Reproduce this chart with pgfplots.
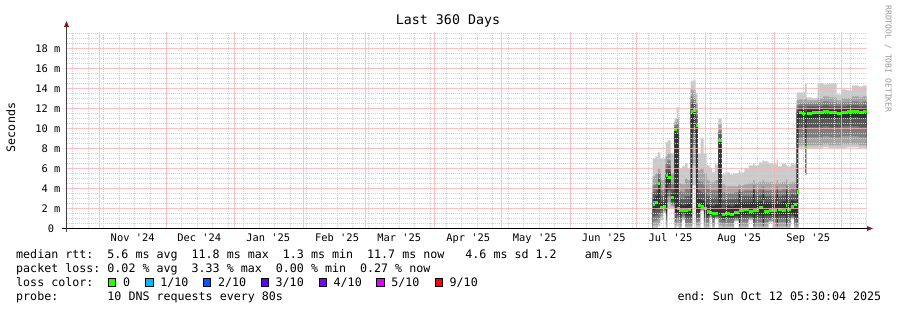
\documentclass[border=0pt]{standalone}
\usepackage{pgfplots}
\pgfplotsset{compat=1.18}
\usepackage{pgfplotstable}
\usepackage{fontspec}
\setmonofont{DejaVu Sans Mono}
\newcommand{\q}{\textquotesingle}
\definecolor{smA}{HTML}{CACACA}
\definecolor{smB}{HTML}{A4A4A4}
\definecolor{smC}{HTML}{7E7E7E}
\definecolor{smD}{HTML}{585858}
\definecolor{smE}{HTML}{323232}
\definecolor{lossA}{HTML}{26FF00}
\definecolor{lossB}{HTML}{00B8FF}
\definecolor{lossC}{HTML}{0059FF}
\definecolor{lossD}{HTML}{5E00FF}
\definecolor{lossE}{HTML}{7E00FF}
\definecolor{lossF}{HTML}{DD00FF}
\definecolor{lossG}{HTML}{FF0000}
\definecolor{mgridc}{rgb}{0.96,0.71,0.71}
\definecolor{gridc}{rgb}{0.82,0.82,0.82}
\definecolor{arrowc}{HTML}{7F1F1F}
\newcommand{\legfont}{\ttfamily\fontsize{11.66}{14}\selectfont\frenchspacing}
\newcommand{\axfont}{\ttfamily\fontsize{10.4}{12}\selectfont\frenchspacing}

\pgfplotstableread{
x     p1  p2  p3  p4   p5   med  p6   p7   p8   p9   p10
263.7 0   0.3 0.7 1.2  1.8  2.4  3.0  3.6  4.3  5.2  7.0
265.0 0   0.3 0.8 1.3  2.0  2.6  3.2  3.8  4.5  5.5  7.2
266.2 0.2 0.5 1.0 1.5  2.0  4.5  4.6  5.0  5.5  6.0  7.6
267.2 0.8 1.2 1.5 1.8  2.0  2.1  2.6  3.2  3.8  4.8  7.0
268.5 1.5 1.7 1.8 1.9  2.0  2.2  2.6  3.3  4.0  5.0  7.0
269.6 0   0.3 0.8 1.2  1.5  5.3  5.5  6.0  6.5  7.2  8.6
270.5 2.0 2.6 3.2 3.8  4.4  5.1  5.6  6.2  6.8  7.5  8.8
271.8 2.0 2.2 2.4 2.6  2.8  3.1  3.4  3.9  4.5  5.5  7.5
273.5 0   0.3 0.6 1.0  1.5  9.9  10.0 10.1 10.3 10.6 11.0
274.6 0.2 0.5 1.0 1.3  1.6  2.0  9.5  10.0 10.5 11.0 12.1
275.5 0   0.2 0.6 1.0  1.3  1.8  2.4  3.0  3.7  4.5  6.0
277.0 0.8 1.0 1.2 1.4  1.6  1.8  2.3  2.9  3.6  4.4  6.2
278.3 0   0.2 0.5 0.9  1.3  1.8  2.4  3.2  4.0  5.0  6.5
279.5 0   0.2 0.5 0.9  1.3  1.9  2.5  3.2  3.9  4.8  6.0
280.8 0   0.2 0.5 0.8  1.2  11.7 12.0 12.6 13.2 13.9 14.7
281.7 4.3 6.3 8.3 9.5  10.3 11.8 12.0 12.5 13.0 13.8 14.8
283.1 0   0.3 0.6 1.0  1.5  10.3 10.5 11.2 11.8 12.5 13.5
284.0 0   0.3 0.7 1.1  1.6  2.3  3.0  3.8  4.7  5.8  7.5
285.3 1.7 1.8 1.9 2.0  2.1  2.2  2.8  3.6  4.6  6.0  9.0
286.7 0   0.2 0.6 1.0  1.4  2.0  2.7  3.5  4.3  5.5  7.5
288.0 0   0.2 0.6 1.0  1.3  1.7  2.4  3.2  4.0  4.8  6.3
289.4 1.0 1.1 1.2 1.3  1.4  1.6  2.3  3.0  3.8  4.6  6.0
290.5 0   0.2 0.5 0.9  1.2  1.5  2.2  3.0  3.8  4.6  5.6
291.8 0.9 1.0 1.1 1.2  1.3  1.5  2.4  3.1  3.8  4.8  6.4
293.3 0   0.3 0.6 1.0  1.3  8.8  9.0  9.4  9.8  10.4 11.0
294.8 0   0.2 0.5 0.8  1.1  1.4  2.0  2.8  3.6  4.4  5.4
296.5 0   0.2 0.5 0.9  1.1  1.5  2.3  2.9  3.5  4.2  5.6
298.5 0   0.2 0.5 0.9  1.1  1.4  2.2  2.9  3.5  4.2  5.4
300.5 0.7 0.8 0.9 1.0  1.2  1.6  2.4  3.0  3.6  4.2  5.5
302.5 0   0.1 0.2 0.3  0.4  1.8  3.6  3.8  4.0  4.4  5.8
303.1 0   0.2 0.6 1.0  1.3  1.8  2.6  3.2  3.7  4.3  5.6
305.0 0   0.2 0.6 1.0  1.3  1.9  2.6  3.2  3.8  4.4  6.0
307.0 0.8 0.9 1.0 1.1  1.3  1.7  2.6  3.2  3.8  4.5  6.3
309.0 0   0.1 0.2 0.3  0.5  1.8  3.8  4.0  4.3  4.8  6.5
309.6 0   0.2 0.6 1.0  1.3  1.8  2.6  3.2  3.8  4.5  6.3
311.5 0   0.2 0.6 1.0  1.3  2.1  2.7  3.3  3.9  4.6  6.6
313.3 0   0.1 0.2 0.3  0.5  2.7  3.5  3.8  4.2  4.8  6.8
313.9 0   0.2 0.6 1.0  1.3  1.7  2.6  3.2  3.8  4.6  6.7
316.0 0.6 0.7 0.8 1.0  1.3  1.8  2.6  3.2  3.8  4.6  6.5
318.0 0   0.2 0.6 1.0  1.3  1.8  2.6  3.2  3.8  4.5  6.4
319.5 0   0.1 0.2 0.3  0.5  2.6  3.6  3.9  4.2  4.8  6.9
320.1 0   0.2 0.6 1.0  1.3  1.9  2.6  3.2  3.8  4.5  6.2
322.0 0   0.2 0.6 1.0  1.3  1.8  2.7  3.3  3.9  4.6  6.5
323.8 0   0.1 0.2 0.3  0.5  2.3  3.7  4.0  4.3  4.9  6.3
324.4 0   0.2 0.6 1.0  1.3  1.9  2.6  3.2  3.8  4.5  6.2
326.0 0.9 1.0 1.1 1.2  1.4  2.2  2.8  3.4  4.0  4.6  6.5
327.3 0   0.2 0.5 0.9  1.2  2.4  2.7  3.3  3.9  4.6  6.4
328.5 0   0.1 0.3 0.6  1.0  3.7  11.6 11.9 12.3 12.8 13.6
329.4 8.0 8.3 9.1 10.1 11.0 11.6 11.9 12.2 12.5 12.9 13.6
331.0 8.0 8.3 9.1 10.1 11.0 11.5 11.9 12.2 12.5 12.9 13.6
332.4 5.3 5.3 5.4 5.4  5.5  8.1  11.6 12.0 12.5 13.0 14.5
333.0 8.0 8.3 9.1 10.1 11.0 11.5 11.9 12.2 12.5 12.8 13.1
335.5 8.0 8.3 9.1 10.1 11.0 11.6 11.9 12.2 12.5 12.8 13.0
338.0 8.0 8.3 9.1 10.1 11.0 11.6 11.9 12.2 12.6 13.0 14.5
340.5 8.1 8.4 9.2 10.2 11.0 11.7 12.0 12.3 12.7 13.2 14.4
343.0 8.0 8.3 9.1 10.1 11.0 11.6 11.9 12.2 12.6 13.1 14.5
346.5 8.0 8.3 9.1 10.1 11.0 11.5 11.9 12.2 12.5 12.8 13.4
349.0 8.0 8.4 9.2 10.2 11.0 11.6 11.9 12.2 12.6 13.0 13.9
351.0 8.1 8.4 9.2 10.2 11.0 11.7 12.0 12.3 12.6 13.0 13.8
353.5 8.1 8.4 9.2 10.2 11.1 11.7 12.0 12.3 12.7 13.2 14.3
356.5 8.0 8.3 9.1 10.1 11.0 11.6 11.9 12.2 12.6 13.1 14.2
358.5 8.0 8.3 9.1 10.1 11.0 11.7 12.0 12.3 12.7 13.2 14.3
360.0 8.0 8.3 9.1 10.1 11.0 11.7 12.0 12.3 12.7 13.2 14.3
}\smoke

\begin{document}
\begin{tikzpicture}
\useasboundingbox (0,0) rectangle (897pt,310pt);
\fill[white] (0,0) rectangle (897pt,310pt);
\begin{axis}[
  at={(66.5pt,81.5pt)}, anchor=south west,
  scale only axis, width=800pt, height=196pt,
  xmin=0, xmax=360, ymin=0, ymax=19.6,
  axis line style={draw=none},
  axis on top,
  major tick length=0pt, minor tick length=0pt,
  xtick={29.77,59.77,90.77,121.77,149.77,180.77,210.77,241.77,271.77,302.77,333.77},
  xticklabels={Nov \q24,Dec \q24,Jan \q25,Feb \q25,Mar \q25,Apr \q25,May \q25,Jun \q25,Jul \q25,Aug \q25,Sep \q25},
  xticklabel style={font=\axfont, anchor=base, inner sep=0pt, yshift=-12.6pt},
  minor xtick={2.77,9.77,...,352.77},
  ytick={0,2,...,18},
  yticklabels={0~~,2~m,4~m,6~m,8~m,10~m,12~m,14~m,16~m,18~m},
  yticklabel style={font=\axfont, anchor=east, inner sep=0pt, xshift=-6pt},
  minor ytick={0.5,1,1.5,2.5,3,3.5,4.5,5,5.5,6.5,7,7.5,8.5,9,9.5,10.5,11,11.5,12.5,13,13.5,14.5,15,15.5,16.5,17,17.5,18.5,19,19.5},
  xmajorgrids=false, ymajorgrids=false, xminorgrids=true, yminorgrids=true,
  minor grid style={draw=gridc, dash pattern=on 1pt off 1pt, line width=0.8pt},
]
\addplot[const plot, fill=smA, draw=none] table[x=x,y=p10]{\smoke} \closedcycle;
\addplot[const plot, fill=smB, draw=none] table[x=x,y=p9]{\smoke} \closedcycle;
\addplot[const plot, fill=smC, draw=none] table[x=x,y=p8]{\smoke} \closedcycle;
\addplot[const plot, fill=smD, draw=none] table[x=x,y=p7]{\smoke} \closedcycle;
\addplot[const plot, fill=smE, draw=none] table[x=x,y=p6]{\smoke} \closedcycle;
\addplot[const plot, fill=smD, draw=none] table[x=x,y=p5]{\smoke} \closedcycle;
\addplot[const plot, fill=smC, draw=none] table[x=x,y=p4]{\smoke} \closedcycle;
\addplot[const plot, fill=smB, draw=none] table[x=x,y=p3]{\smoke} \closedcycle;
\addplot[const plot, fill=smA, draw=none] table[x=x,y=p2]{\smoke} \closedcycle;
\addplot[const plot, fill=white, draw=none] table[x=x,y=p1]{\smoke} \closedcycle;
\addplot[jump mark left, color=lossA, line width=3pt] table[x=x,y=med]{\smoke};
\addplot[jump mark left, color=lossB, line width=3pt] coordinates {(263.9,2.6) (264.8,2.6)};
% major grid (month starts and every 2 ms), drawn over the smoke like rrdtool
\pgfplotsinvokeforeach{14.85,45.0,75.6,106.65,134.55,165.6,195.75,226.8,256.5,287.55,318.6,348.75}{
  \draw[draw=mgridc, line width=1.3pt, opacity=0.8] (axis cs:#1,0) -- (axis cs:#1,19.6);
}
\pgfplotsinvokeforeach{2,4,6,8,10,12,14,16,18}{
  \draw[draw=mgridc, line width=1.1pt, opacity=0.8] (axis cs:0,#1) -- (axis cs:360,#1);
}
\end{axis}
% axis lines and arrows
\draw[black, line width=1.2pt] (62pt,81.5pt) -- (868pt,81.5pt);
\fill[arrowc] (867pt,84pt) -- (873pt,81.5pt) -- (867pt,79pt) -- cycle;
\draw[black!75, line width=1pt] (66.5pt,78pt) -- (66.5pt,284pt);
\fill[arrowc] (64pt,283pt) -- (66.5pt,289pt) -- (69pt,283pt) -- cycle;
% texts
\node[anchor=base, inner sep=0pt] at (448pt,285.5pt) {\ttfamily\fontsize{13.3}{15}\selectfont Last 360 Days};
\node[rotate=90, inner sep=0pt] at (10.7pt,182.5pt) {\legfont Seconds};
\node[rotate=-90, inner sep=0pt, text=black!40] at (888.3pt,251pt) {\ttfamily\fontsize{8.1}{9}\selectfont\frenchspacing RRDTOOL / TOBI OETIKER};
\node[anchor=base west, inner sep=0pt] at (16pt,51.5pt) {\legfont median rtt:~~5.6 ms avg~~11.8 ms max~~1.3 ms min~~11.7 ms now~~~4.6 ms sd~1.2~~~~am/s};
\node[anchor=base west, inner sep=0pt] at (16pt,37.6pt) {\legfont packet loss:~0.02 \% avg~~3.33 \% max~~0.00 \% min~~0.27 \% now};
\node[anchor=base west, inner sep=0pt] at (16pt,23.5pt) {\legfont loss color:};
\foreach \bx/\col in {108.3/lossA, 145.7/lossB, 203.3/lossC, 261/lossD, 319/lossE, 376.7/lossF, 435/lossG}{
  \draw[black, line width=0.6pt, fill=\col] (\bx pt,24pt) rectangle ++(7.4pt,7.4pt);
}
\node[anchor=base west, inner sep=0pt] at (122.8pt,23.5pt) {\legfont 0};
\node[anchor=base west, inner sep=0pt] at (160.2pt,23.5pt) {\legfont 1/10};
\node[anchor=base west, inner sep=0pt] at (217.8pt,23.5pt) {\legfont 2/10};
\node[anchor=base west, inner sep=0pt] at (275.5pt,23.5pt) {\legfont 3/10};
\node[anchor=base west, inner sep=0pt] at (333.5pt,23.5pt) {\legfont 4/10};
\node[anchor=base west, inner sep=0pt] at (391.2pt,23.5pt) {\legfont 5/10};
\node[anchor=base west, inner sep=0pt] at (449.5pt,23.5pt) {\legfont 9/10};
\node[anchor=base west, inner sep=0pt] at (16pt,9.4pt) {\legfont probe:~~~~~~~10 DNS requests every 80s};
\node[anchor=base west, inner sep=0pt] at (677.5pt,9.4pt) {\legfont end: Sun Oct 12 05:30:04 2025};
\end{tikzpicture}
\end{document}
